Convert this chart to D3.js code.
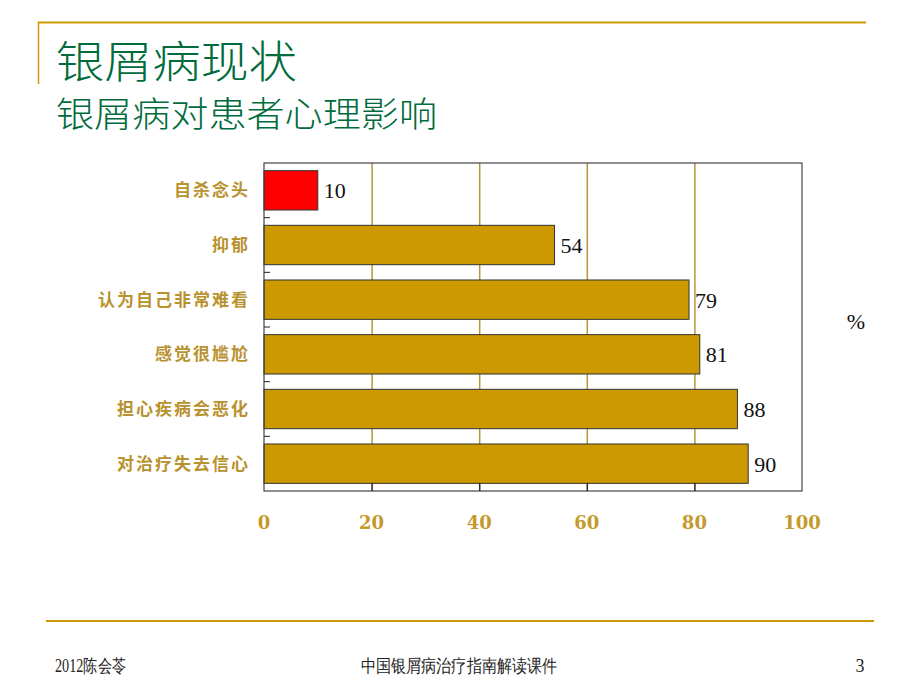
<!DOCTYPE html>
<html><head><meta charset="utf-8">
<script src="https://cdn.jsdelivr.net/npm/d3@7"></script>
<style>body{margin:0;background:#fff}svg{display:block}</style>
</head><body>
<script>
const categories = ["自杀念头","抑郁","认为自己非常难看","感觉很尴尬","担心疾病会恶化","对治疗失去信心"];
const values = [10,54,79,81,88,90];
const xTicks = [0,20,40,60,80,100];

const W=920,H=690;
const svg=d3.select("body").append("svg").attr("width",W).attr("height",H);
const gold="#CC9900";
const labelGold="#B8922E";
const cjk="'Noto Sans CJK SC','Noto Sans',sans-serif";
const serif="'Liberation Serif','DejaVu Serif',serif";

// slide decoration
svg.append("line").attr("x1",38).attr("x2",866).attr("y1",22.5).attr("y2",22.5).attr("stroke",gold).attr("stroke-width",2);
svg.append("line").attr("x1",38.5).attr("x2",38.5).attr("y1",22).attr("y2",84).attr("stroke",gold).attr("stroke-width",1.5);
svg.append("line").attr("x1",46).attr("x2",874).attr("y1",621).attr("y2",621).attr("stroke",gold).attr("stroke-width",2);

svg.append("text").attr("x",56).attr("y",78).attr("fill","#006B3C").attr("font-family",cjk).attr("font-weight",300).attr("font-size",44)
  .attr("textLength",241).attr("lengthAdjust","spacingAndGlyphs").text("银屑病现状");
svg.append("text").attr("x",56).attr("y",127).attr("fill","#006B3C").attr("font-family",cjk).attr("font-weight",300).attr("font-size",35)
  .attr("textLength",381).attr("lengthAdjust","spacingAndGlyphs").text("银屑病对患者心理影响");

svg.append("text").attr("x",55).attr("y",672).attr("font-family",serif).attr("font-size",18).attr("fill","#222")
  .attr("textLength",71).attr("lengthAdjust","spacingAndGlyphs").text("2012陈会苓");
svg.append("text").attr("x",361).attr("y",672).attr("font-family",serif).attr("font-size",18).attr("fill","#222")
  .attr("textLength",196).attr("lengthAdjust","spacingAndGlyphs").text("中国银屑病治疗指南解读课件");
svg.append("text").attr("x",860).attr("y",672).attr("text-anchor","middle").attr("font-family",serif).attr("font-size",18).attr("fill","#222").text("3");

const L=264,R=802,T=163,B=491;
const x=d3.scaleLinear().domain([0,100]).range([L,R]);
const y=d3.scaleBand().domain(categories).range([T,B]).paddingInner(0.28).paddingOuter(0.14);

// gridlines
svg.append("g").selectAll("line").data(xTicks.filter(d=>d>0&&d<100)).join("line")
  .attr("x1",d=>x(d)+0.5).attr("x2",d=>x(d)+0.5).attr("y1",T).attr("y2",B)
  .attr("stroke","#B8963A").attr("stroke-width",1.5);

// bars
svg.append("g").selectAll("rect").data(categories).join("rect")
  .attr("x",x(0)).attr("y",c=>y(c)).attr("width",(c,i)=>x(values[i])-x(0)).attr("height",y.bandwidth())
  .attr("fill",(c,i)=>i===0?"#FF0000":gold).attr("stroke","#333").attr("stroke-width",1);

// plot frame
svg.append("rect").attr("x",L).attr("y",T).attr("width",R-L).attr("height",B-T).attr("fill","none").attr("stroke","#444").attr("stroke-width",1.2);

// y category ticks (inward)
const yb=categories.slice(1).map(c=>y(c)-y.step()*y.paddingInner()/2);
svg.append("g").selectAll("line").data(yb).join("line")
  .attr("x1",L).attr("x2",L+6).attr("y1",d=>d).attr("y2",d=>d).attr("stroke","#222").attr("stroke-width",1);

// x axis ticks inward
svg.append("g").selectAll("line").data(xTicks.filter(d=>d>0&&d<100)).join("line")
  .attr("x1",d=>x(d)+0.5).attr("x2",d=>x(d)+0.5).attr("y1",B-8).attr("y2",B).attr("stroke","#222").attr("stroke-width",1.2);

// x tick labels
svg.append("g").selectAll("text").data(xTicks).join("text")
  .attr("x",d=>x(d)).attr("y",529).attr("text-anchor","middle")
  .attr("font-family","'DejaVu Serif',serif").attr("font-weight","bold").attr("font-size",18).attr("fill","#C49A2C").text(d=>d);

// category labels
svg.append("g").selectAll("text").data(categories).join("text")
  .attr("x",250).attr("y",c=>y(c)+y.bandwidth()/2+6).attr("text-anchor","end")
  .attr("font-family",cjk).attr("font-weight","bold").attr("font-size",17).attr("letter-spacing",2).attr("fill",labelGold).text(c=>c);

// value labels
svg.append("g").selectAll("text").data(categories).join("text")
  .attr("x",(c,i)=>x(values[i])+6).attr("y",c=>y(c)+y.bandwidth()/2+8).attr("font-family",serif)
  .attr("font-size",22).attr("fill","#111").text((c,i)=>values[i]);

svg.append("text").attr("x",856).attr("y",329).attr("text-anchor","middle").attr("font-family",serif).attr("font-size",22).attr("fill","#111").text("%");
</script>
</body></html>
